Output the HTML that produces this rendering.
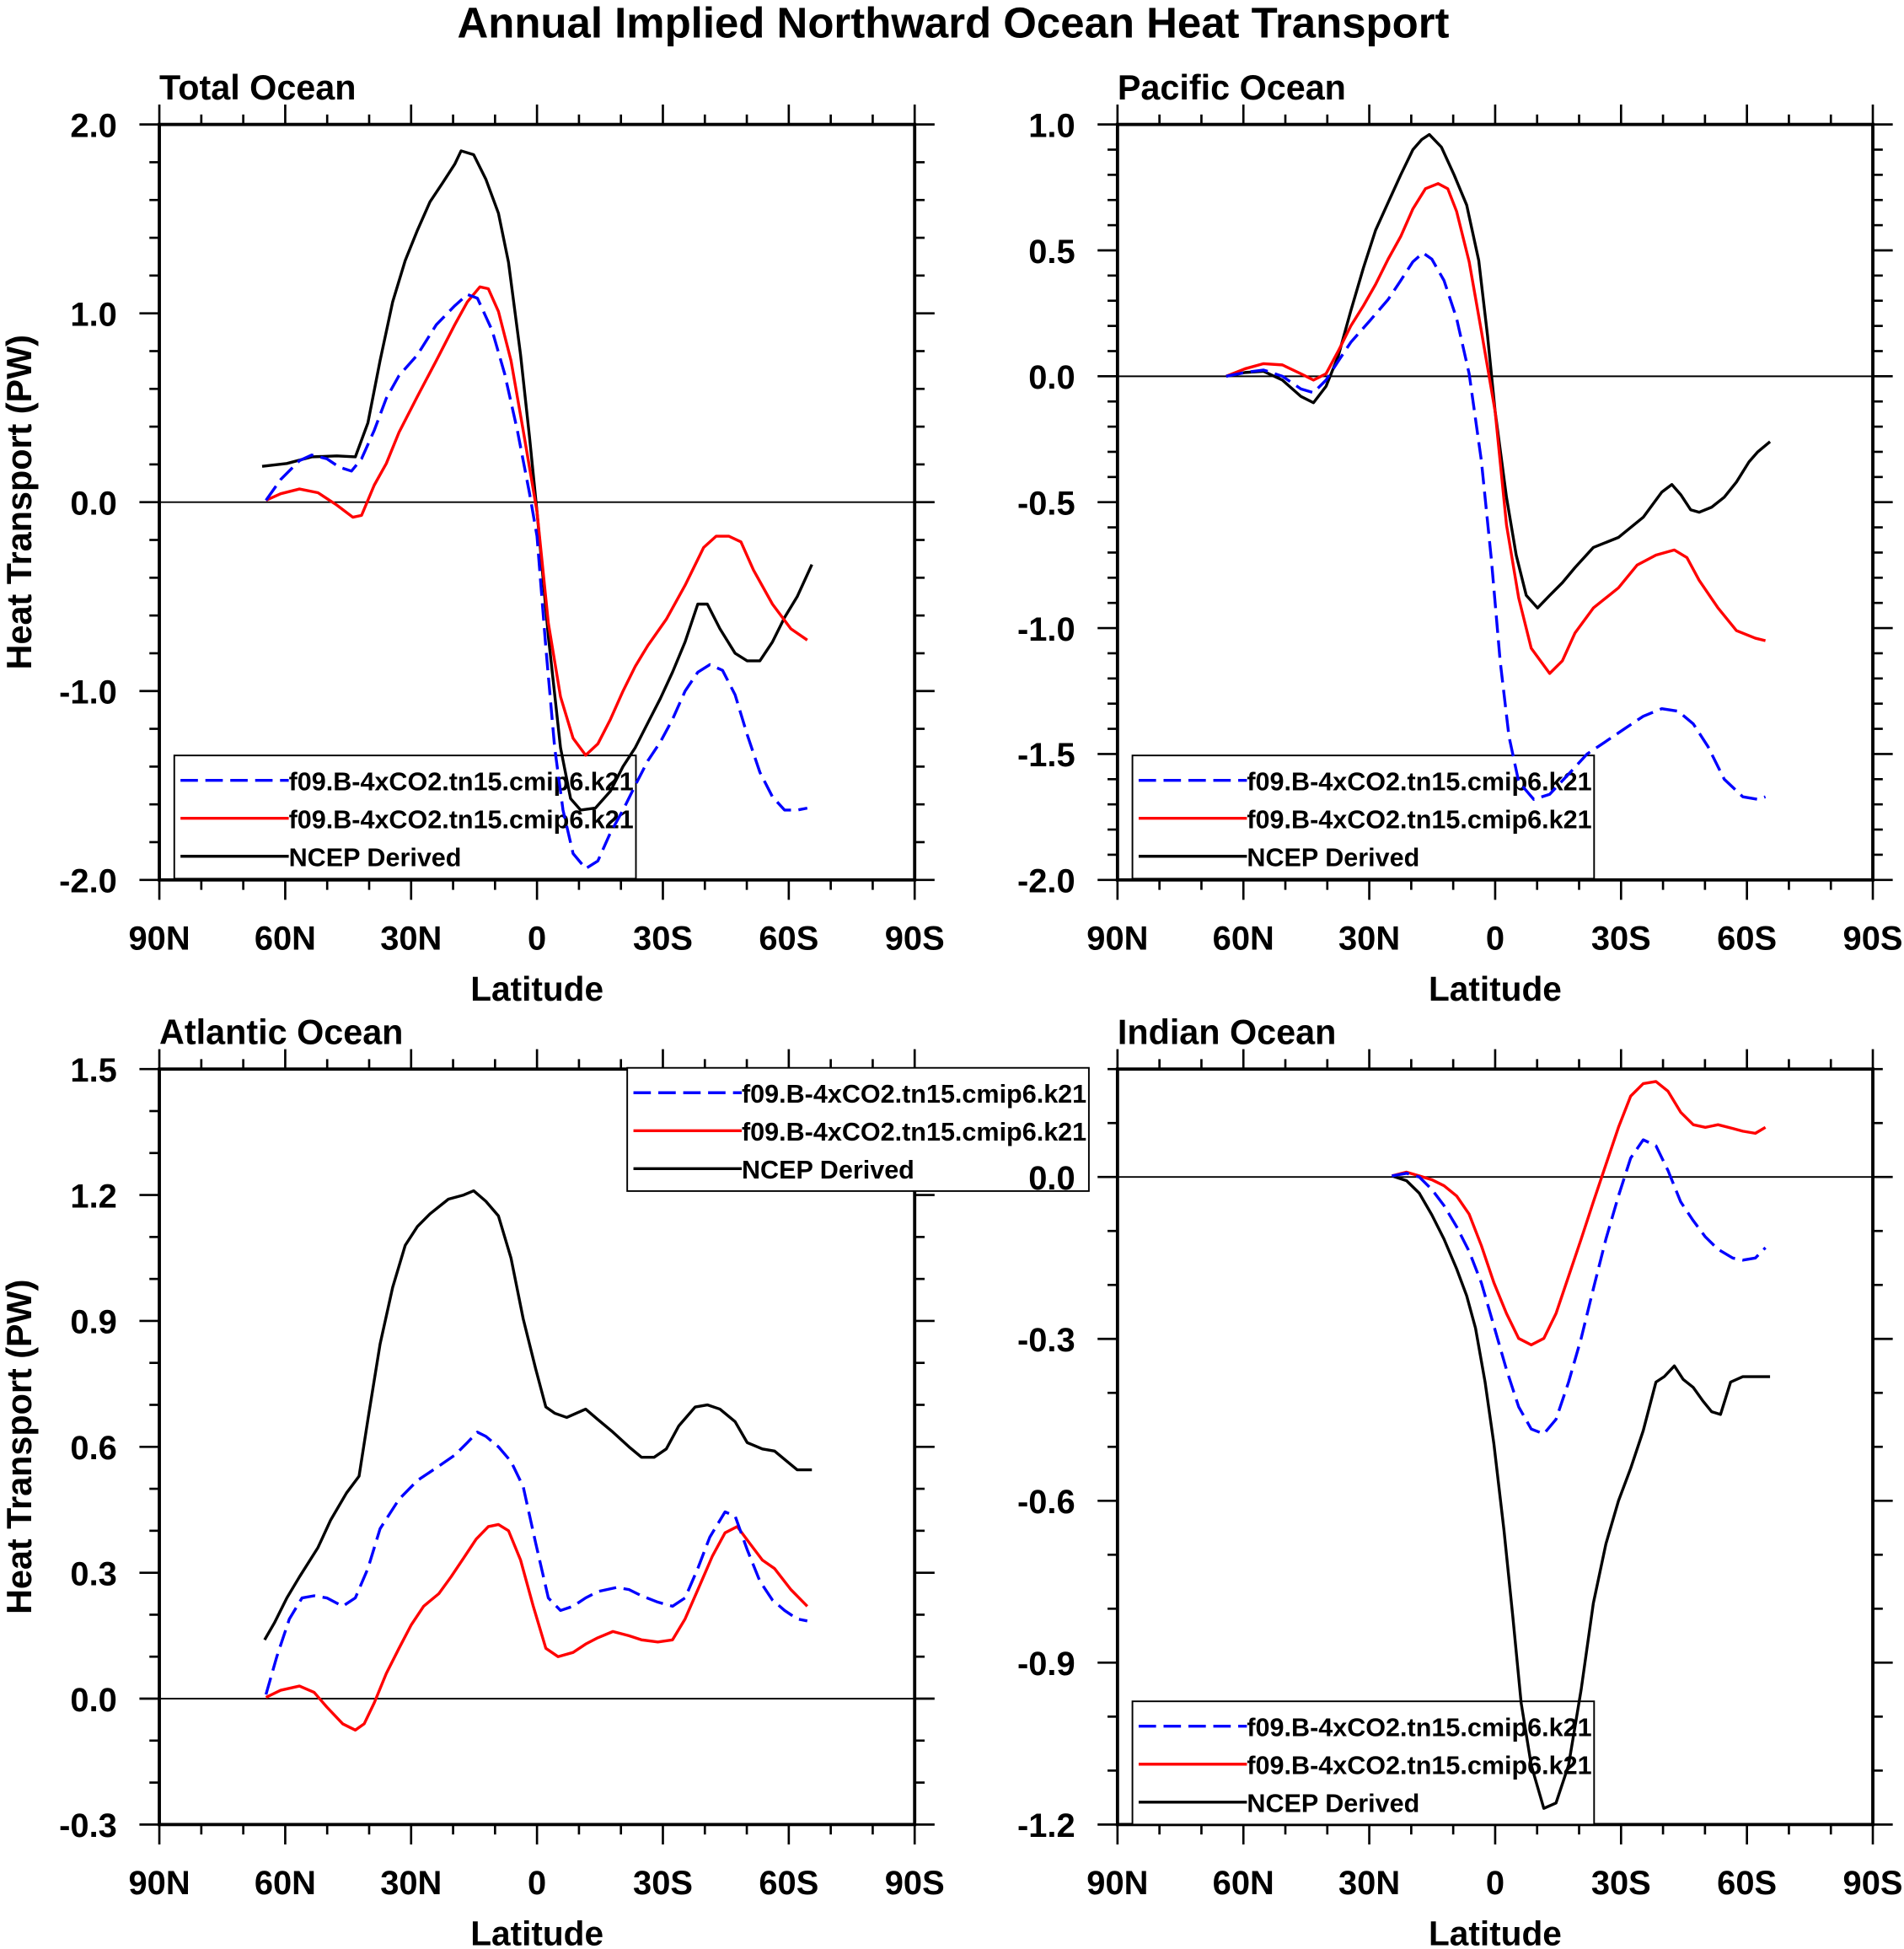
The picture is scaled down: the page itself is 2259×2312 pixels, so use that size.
<!DOCTYPE html>
<html><head><meta charset="utf-8"><style>
html,body{margin:0;padding:0;background:#fff}
svg{display:block}
text{font-family:"Liberation Sans",Arial,sans-serif;font-weight:bold;fill:#000}
</style></head><body>
<svg id="fig" xmlns="http://www.w3.org/2000/svg" width="2259" height="2312" viewBox="0 0 1530 1566">
<rect x="0" y="0" width="1530" height="1566" fill="#fff"/>
<text x="766" y="30" font-size="34.5" text-anchor="middle">Annual Implied Northward Ocean Heat Transport</text>
</svg>
<script>
// ---- Total Ocean ----
const totLatB=[64.6,61.1,56.6,53.7,50.1,47.1,44.2,41.8,38.8,35.9,32.9,28.5,24.0,19.6,16.6,14.2,10.7,7.7,4.7,1.8,0,-2.1,-4.2,-6.2,-8.6,-11.6,-14.5,-17.5,-20.5,-23.4,-26.4,-29.4,-32.3,-35.3,-38.3,-41.2,-44.2,-47.2,-50.1,-53.1,-56.1,-59.0,-62.0,-64.4];
const totValB=[0.01,0.12,0.22,0.25,0.23,0.185,0.165,0.23,0.38,0.55,0.67,0.78,0.94,1.04,1.10,1.08,0.91,0.68,0.38,0.05,-0.18,-0.77,-1.30,-1.63,-1.86,-1.94,-1.90,-1.75,-1.63,-1.50,-1.37,-1.27,-1.15,-1.00,-0.90,-0.86,-0.89,-1.02,-1.23,-1.43,-1.56,-1.63,-1.63,-1.62];
const totLatR=[64.6,61.1,56.6,52.2,47.7,43.9,41.8,38.8,35.9,32.9,28.5,24.0,19.6,16.6,13.6,11.6,9.2,6.2,3.3,0,-2.7,-5.6,-8.6,-11.6,-14.5,-17.5,-20.5,-23.4,-26.4,-30.8,-35.3,-39.7,-42.7,-45.7,-48.6,-51.6,-56.1,-60.5,-64.4];
const totValR=[0.01,0.045,0.07,0.05,-0.015,-0.08,-0.07,0.09,0.205,0.37,0.56,0.75,0.94,1.06,1.14,1.13,1.01,0.75,0.38,-0.05,-0.64,-1.03,-1.25,-1.34,-1.28,-1.15,-1.00,-0.87,-0.76,-0.62,-0.44,-0.24,-0.18,-0.18,-0.21,-0.36,-0.54,-0.67,-0.73];
const totLatK=[65.5,59.6,53.7,47.7,43.3,40.3,37.4,34.4,31.4,28.5,25.5,22.5,19.6,18.1,15.1,12.2,9.2,6.8,3.9,1.8,0,-2.7,-5.6,-8.0,-10.4,-13.9,-17.5,-20.5,-23.4,-26.4,-29.4,-32.3,-35.3,-38.3,-40.6,-43.6,-47.2,-50.1,-53.1,-56.1,-59.0,-62.0,-65.5];
const totValK=[0.19,0.205,0.24,0.245,0.24,0.42,0.75,1.06,1.28,1.44,1.59,1.69,1.79,1.86,1.84,1.71,1.53,1.27,0.78,0.35,-0.05,-0.71,-1.30,-1.57,-1.63,-1.62,-1.53,-1.40,-1.30,-1.17,-1.04,-0.90,-0.74,-0.54,-0.54,-0.67,-0.80,-0.84,-0.84,-0.74,-0.61,-0.50,-0.33];
const totTicks=["2.0","1.0","0.0","-1.0","-2.0"];
// ---- Pacific Ocean ----
const pacLatB=[64.1,59.6,55.2,50.7,46.3,43.3,40.3,37.4,34.4,29.9,25.5,22.5,19.6,17.2,15.1,12.2,9.2,6.2,3.3,0.9,-1.2,-3.3,-5.6,-9.2,-13.0,-17.5,-21.9,-26.4,-30.8,-35.3,-39.7,-43.6,-47.2,-50.7,-54.6,-59.0,-62.6,-64.4];
const pacValB=[0,0.015,0.025,0,-0.05,-0.065,-0.015,0.06,0.135,0.22,0.305,0.38,0.455,0.49,0.465,0.38,0.23,0.01,-0.335,-0.73,-1.13,-1.43,-1.61,-1.68,-1.66,-1.58,-1.50,-1.45,-1.40,-1.35,-1.32,-1.33,-1.38,-1.47,-1.60,-1.67,-1.68,-1.67];
const pacLatR=[64.1,59.6,55.2,50.7,46.3,43.3,40.3,37.4,34.4,31.4,28.5,25.5,22.5,19.6,16.6,13.6,11.3,9.2,6.2,3.3,0,-2.7,-5.6,-8.6,-13.0,-16.0,-19.0,-23.4,-29.4,-33.8,-38.3,-42.7,-45.7,-48.6,-53.1,-57.5,-62.0,-64.4];
const pacValR=[0,0.03,0.05,0.045,0.01,-0.015,0.01,0.10,0.20,0.28,0.365,0.465,0.555,0.665,0.745,0.765,0.745,0.655,0.455,0.18,-0.14,-0.59,-0.88,-1.08,-1.18,-1.13,-1.02,-0.92,-0.84,-0.75,-0.71,-0.69,-0.72,-0.81,-0.92,-1.01,-1.04,-1.05];
const pacLatK=[64.1,59.6,55.2,50.7,46.3,43.3,40.3,37.4,34.4,31.4,28.5,25.5,22.5,19.6,17.5,15.7,12.8,9.8,6.8,3.9,1.8,0,-2.7,-5.0,-7.4,-10.1,-13.0,-16.0,-19.0,-23.4,-29.4,-35.3,-39.7,-42.1,-44.2,-46.6,-48.6,-51.6,-54.6,-57.5,-60.5,-62.6,-65.5];
const pacValK=[0,0.015,0.02,-0.015,-0.08,-0.105,-0.04,0.08,0.26,0.43,0.58,0.69,0.80,0.90,0.94,0.96,0.91,0.80,0.68,0.46,0.16,-0.14,-0.48,-0.71,-0.87,-0.92,-0.87,-0.82,-0.76,-0.68,-0.64,-0.56,-0.46,-0.43,-0.47,-0.53,-0.54,-0.52,-0.48,-0.42,-0.34,-0.30,-0.26];
const pacTicks=["1.0","0.5","0.0","-0.5","-1.0","-1.5","-2.0"];
// ---- Atlantic Ocean ----
const atlLatB=[64.6,62.0,59.0,56.0,53.1,50.1,46.3,43.3,40.3,37.4,32.9,28.5,24.0,19.6,16.6,14.2,12.2,9.2,6.2,3.3,0.3,-2.7,-5.6,-8.6,-11.6,-14.5,-19.0,-21.9,-24.9,-28.8,-32.3,-35.3,-38.3,-41.2,-44.8,-47.2,-50.1,-53.1,-56.1,-59.0,-62.0,-64.4];
const atlValB=[0.01,0.10,0.19,0.24,0.245,0.24,0.22,0.24,0.31,0.405,0.475,0.52,0.55,0.58,0.61,0.635,0.625,0.60,0.565,0.505,0.37,0.24,0.21,0.22,0.24,0.255,0.265,0.26,0.245,0.23,0.22,0.24,0.31,0.385,0.445,0.435,0.355,0.28,0.235,0.21,0.19,0.185];
const atlLatR=[64.6,61.1,56.6,53.1,50.1,46.3,43.3,41.2,38.8,35.9,32.9,30.0,27.0,23.4,20.5,17.5,14.5,11.6,9.2,6.8,3.9,0.9,-2.1,-5.0,-8.6,-11.6,-14.5,-18.1,-21.9,-24.9,-28.8,-32.3,-35.3,-38.8,-41.8,-44.8,-47.7,-50.7,-53.7,-56.6,-60.5,-64.4];
const atlValR=[0.003,0.02,0.03,0.015,-0.02,-0.06,-0.075,-0.06,-0.01,0.06,0.12,0.175,0.22,0.25,0.29,0.335,0.38,0.41,0.415,0.40,0.33,0.22,0.12,0.10,0.11,0.13,0.145,0.16,0.15,0.14,0.135,0.14,0.19,0.27,0.34,0.395,0.41,0.37,0.33,0.31,0.26,0.22];
const atlLatK=[64.9,62.6,59.6,56.6,52.2,49.2,45.4,42.4,40.3,37.4,34.4,31.4,28.5,25.5,21.1,17.5,15.1,12.2,9.2,6.2,3.3,0.3,-2.1,-4.2,-7.1,-11.6,-14.5,-18.1,-21.9,-24.9,-27.9,-30.8,-33.8,-37.7,-40.6,-43.6,-47.2,-50.1,-53.7,-56.6,-59.6,-62.0,-65.5];
const atlValK=[0.14,0.18,0.24,0.29,0.36,0.425,0.49,0.53,0.665,0.845,0.98,1.08,1.125,1.155,1.19,1.20,1.21,1.185,1.15,1.05,0.905,0.785,0.695,0.68,0.67,0.69,0.665,0.635,0.60,0.575,0.575,0.595,0.65,0.695,0.70,0.69,0.66,0.61,0.595,0.59,0.565,0.545,0.545];
const atlTicks=["1.5","1.2","0.9","0.6","0.3","0.0","-0.3"];
// ---- Indian Ocean ----
const indLatB=[24.6,21.1,18.1,15.1,12.2,9.2,6.2,3.3,0.3,-2.7,-5.6,-8.6,-11.6,-14.5,-17.5,-20.5,-23.4,-26.4,-29.4,-32.3,-35.3,-38.3,-41.2,-44.2,-47.2,-50.1,-53.1,-56.6,-59.0,-62.0,-64.4];
const indValB=[0.002,0.007,0,-0.023,-0.053,-0.092,-0.138,-0.196,-0.276,-0.357,-0.426,-0.467,-0.476,-0.449,-0.38,-0.299,-0.207,-0.115,-0.035,0.035,0.069,0.058,0.012,-0.046,-0.081,-0.111,-0.134,-0.15,-0.154,-0.15,-0.131];
const indLatR=[24.6,21.1,18.1,15.1,12.2,9.2,6.2,3.3,0.3,-2.7,-5.6,-8.6,-11.6,-14.5,-17.5,-20.5,-23.4,-26.4,-29.4,-32.3,-35.3,-38.3,-41.2,-44.2,-47.2,-50.1,-53.1,-56.6,-59.0,-62.0,-64.4];
const indValR=[0.002,0.009,0.002,-0.005,-0.016,-0.035,-0.069,-0.127,-0.196,-0.253,-0.299,-0.311,-0.299,-0.253,-0.184,-0.115,-0.046,0.023,0.092,0.15,0.173,0.177,0.159,0.12,0.097,0.092,0.097,0.09,0.085,0.081,0.092];
const indLatK=[24.6,21.1,18.1,15.1,12.2,9.2,6.8,4.7,2.4,0.3,-2.1,-4.2,-6.2,-8.6,-11.6,-14.5,-17.5,-20.5,-23.4,-26.4,-29.4,-32.3,-35.3,-38.3,-40.3,-42.7,-44.8,-47.2,-49.5,-51.6,-53.7,-56.1,-59.0,-62.0,-65.5];
const indValK=[0.002,-0.007,-0.03,-0.07,-0.115,-0.17,-0.22,-0.28,-0.38,-0.495,-0.655,-0.815,-0.975,-1.09,-1.17,-1.16,-1.09,-0.95,-0.79,-0.68,-0.60,-0.54,-0.47,-0.38,-0.37,-0.35,-0.375,-0.39,-0.415,-0.435,-0.44,-0.38,-0.37,-0.37,-0.37];
const indTicks=["0.0","-0.3","-0.6","-0.9","-1.2"];
const xTickLabels=["90N","60N","30N","0","30S","60S","90S"];
const legendLabels=["f09.B-4xCO2.tn15.cmip6.k21","f09.B-4xCO2.tn15.cmip6.k21","NCEP Derived"];

const NS="http://www.w3.org/2000/svg";
const svg=document.getElementById('fig');
function mk(tag,attrs,parent){const e=document.createElementNS(NS,tag);for(const k in attrs)e.setAttribute(k,attrs[k]);(parent||svg).appendChild(e);return e;}

function panel(o){
  const g=mk('g',{});
  
  
  const L=o.x0,R=o.x0+607,T=o.y0,B=o.y0+607;
  const xs=lat=>L+(90-lat)/180*(R-L);
  const ys=v=>T+(o.ymax-v)/(o.ymax-o.ymin)*(B-T);
  const z=mk('line',{x1:L,x2:R,y1:ys(0),y2:ys(0),stroke:'#000','stroke-width':1.3},g);
  
  
  // ticks x
  for(let lat=90;lat>=-90;lat-=10){
    const x=xs(lat),maj=lat%30===0,len=maj?16:8;
    mk('line',{x1:x,x2:x,y1:B,y2:B+len,stroke:'#000','stroke-width':1.8},g);
    mk('line',{x1:x,x2:x,y1:T,y2:T-len,stroke:'#000','stroke-width':1.8},g);
  }
  xTickLabels.forEach((t,i)=>{
    const tx=mk('text',{x:xs(90-i*30),y:B+56,'font-size':27,'text-anchor':'middle'},g);
    tx.textContent=t;
    
    
  });
  const n=Math.round((o.ymax-o.ymin)/o.minor);
  for(let i=0;i<=n;i++){
    const v=o.ymax-i*o.minor,y=ys(v);
    const maj=Math.abs(Math.round((v-o.lab0)/o.major)*o.major-(v-o.lab0))<1e-6,len=maj?16:8;
    mk('line',{x1:L,x2:L-len,y1:y,y2:y,stroke:'#000','stroke-width':1.8},g);
    mk('line',{x1:R,x2:R+len,y1:y,y2:y,stroke:'#000','stroke-width':1.8},g);
  }
  o.ticks.forEach((t,i)=>{
    const tx=mk('text',{x:L-34,y:ys(o.lab0-i*o.major)+10,'font-size':27,'text-anchor':'end'},g);
    tx.textContent=t;
    
    
  });
  const f=mk('rect',{x:L,y:T,width:R-L,height:B-T,fill:'none',stroke:'#000','stroke-width':2.6},g);
  
  
  const ti=mk('text',{x:L,y:T-20,'font-size':28},g);
  ti.textContent=o.title;
  
  
  const xl=mk('text',{x:(L+R)/2,y:B+97,'font-size':27.5,'text-anchor':'middle'},g);
  xl.textContent='Latitude';
  
  
  if(o.ylab){
    const yl=mk('text',{x:0,y:0,'font-size':28,'text-anchor':'middle',transform:'translate(25,'+((T+B)/2)+') rotate(-90)'},g);
    yl.textContent='Heat Transport (PW)';
    
    
  }
  // legend (below curves)
  const lg=mk('g',{},g);
  
  
  mk('rect',{x:o.lx,y:o.ly,width:371,height:99,fill:'#fff',stroke:'#000','stroke-width':1.3},lg);
  const cols=['#0000ff','#ff0000','#000'];
  legendLabels.forEach((t,i)=>{
    const y=o.ly+20+i*30.5;
    mk('line',{x1:o.lx+5,x2:o.lx+92,y1:y,y2:y,stroke:cols[i],'stroke-width':2.3,'stroke-dasharray':i===0?'14,6':'none'},lg);
    const tx=mk('text',{x:o.lx+92,y:y+8,'font-size':20.7},lg);
    tx.textContent=t;
    
    
  });
  // series on top
  const series=[[o.latK,o.valK,'#000','','ncep-derived-series'],[o.latR,o.valR,'#ff0000','','red-series'],[o.latB,o.valB,'#0000ff','14,6','blue-dashed-series']];
  series.forEach(s=>{
    const pts=s[0].map((la,i)=>xs(la).toFixed(1)+','+ys(s[1][i]).toFixed(1)).join(' ');
    const p=mk('polyline',{points:pts,fill:'none',stroke:s[2],'stroke-width':2.3,'stroke-linejoin':'round','stroke-dasharray':s[3]||'none'},g);
    
    
  });
}
panel({name:'total-ocean-panel',title:'Total Ocean',x0:128,y0:100,ymax:2,ymin:-2,minor:0.2,major:1,lab0:2,ticks:totTicks,ylab:true,latB:totLatB,valB:totValB,latR:totLatR,valR:totValR,latK:totLatK,valK:totValK,lx:140,ly:607});
panel({name:'pacific-ocean-panel',title:'Pacific Ocean',x0:898,y0:100,ymax:1,ymin:-2,minor:0.1,major:0.5,lab0:1,ticks:pacTicks,ylab:false,latB:pacLatB,valB:pacValB,latR:pacLatR,valR:pacValR,latK:pacLatK,valK:pacValK,lx:910,ly:607});
panel({name:'atlantic-ocean-panel',title:'Atlantic Ocean',x0:128,y0:859,ymax:1.5,ymin:-0.3,minor:0.1,major:0.3,lab0:1.5,ticks:atlTicks,ylab:true,latB:atlLatB,valB:atlValB,latR:atlLatR,valR:atlValR,latK:atlLatK,valK:atlValK,lx:504,ly:858});
panel({name:'indian-ocean-panel',title:'Indian Ocean',x0:898,y0:859,ymax:0.2,ymin:-1.2,minor:0.1,major:0.3,lab0:0,ticks:indTicks,ylab:false,latB:indLatB,valB:indValB,latR:indLatR,valR:indValR,latK:indLatK,valK:indValK,lx:910,ly:1367});
</script>
</body></html>
